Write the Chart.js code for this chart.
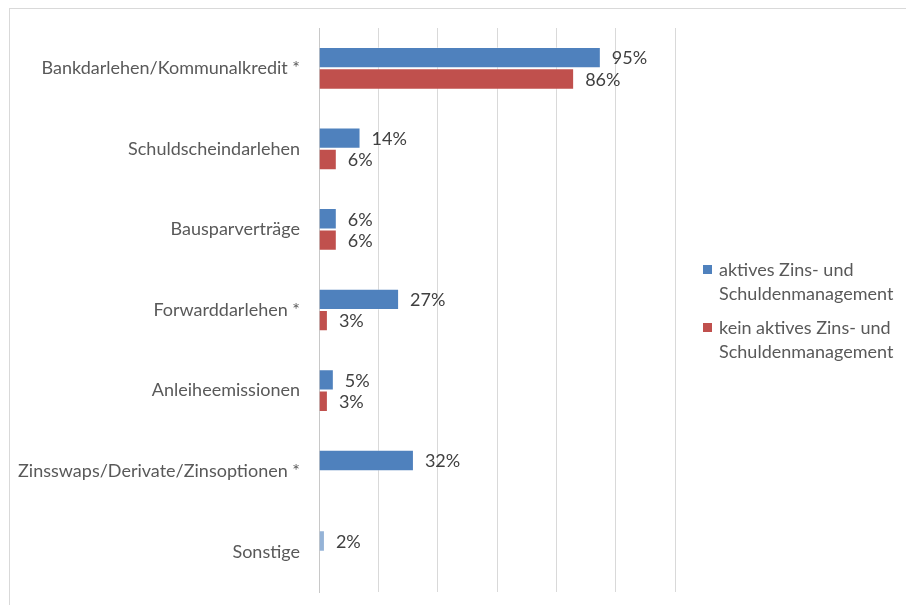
<!DOCTYPE html>
<html>
<head>
<meta charset="utf-8">
<script src="https://cdn.jsdelivr.net/npm/chart.js@4/dist/chart.umd.min.js"></script>
<style>
  html, body { margin: 0; padding: 0; background: #fff; }
  #wrap { width: 906px; height: 605px; position: relative; }
</style>
</head>
<body>
<div id="wrap"><canvas id="myChart" width="906" height="605"></canvas></div>
<script>
// Kategorien und Werte (Prozent)
const categories = [
  "Bankdarlehen/Kommunalkredit *",
  "Schuldscheindarlehen",
  "Bausparverträge",
  "Forwarddarlehen *",
  "Anleiheemissionen",
  "Zinsswaps/Derivate/Zinsoptionen *",
  "Sonstige",
]
const aktiv = [95, 14, 6, 27, 5, 32, 2]
const keinAktiv = [86, 6, 6, 3, 3, null, null]
const seriesNames = [
  ["aktives Zins- und", "Schuldenmanagement"],
  ["kein aktives Zins- und", "Schuldenmanagement"],
]
const xTicks = [0, 20, 40, 60, 80, 100, 120]

const blue = "#4F81BD"
const red = "#C0504D"
const lightBlue = "#95B3D7"
const font = "Lato, 'Open Sans', sans-serif"

// Werte rechts neben die Balken schreiben, Legende rechts zeichnen
const extras = {
  id: "extras",
  beforeDraw(chart) {
    const c = chart.ctx
    c.save()
    c.strokeStyle = "#d9d9d9"
    c.lineWidth = 1
    c.strokeRect(9.5, 8.5, 1000, 1000)
    c.restore()
  },
  afterDatasetsDraw(chart) {
    const c = chart.ctx
    c.save()
    c.font = "18px " + font
    c.fillStyle = "#404040"
    c.textBaseline = "middle"
    chart.data.datasets.forEach((ds, i) => {
      chart.getDatasetMeta(i).data.forEach((bar, j) => {
        const v = ds.data[j]
        if (v === null) return
        c.fillText(v + "%", bar.x + 11, bar.y + 1)
      })
    })

    // Legende
    const cols = [blue, red]
    const tops = [270, 328]
    cols.forEach((col, i) => {
      c.fillStyle = col
      c.fillRect(703, tops[i] - 5, 9, 9)
      c.fillStyle = "#595959"
      c.fillText(seriesNames[i][0], 719, tops[i])
      c.fillText(seriesNames[i][1], 719, tops[i] + 24)
    })
    c.restore()
  },
}

const ctx = document.getElementById("myChart")

new Chart(ctx, {
  type: "bar",
  data: {
    labels: categories,
    datasets: [
      {
        label: seriesNames[0].join(" "),
        data: aktiv,
        backgroundColor: aktiv.map((v, i) => (i === aktiv.length - 1 ? lightBlue : blue)),
        borderColor: "rgba(255,255,255,0.35)",
        borderWidth: 1,
      },
      {
        label: seriesNames[1].join(" "),
        data: keinAktiv,
        backgroundColor: red,
        borderColor: "rgba(255,255,255,0.35)",
        borderWidth: 1,
      },
    ],
  },
  options: {
    indexAxis: "y",
    responsive: false,
    animation: false,
    categoryPercentage: 0.53,
    barPercentage: 1,
    layout: {
      padding: { left: 0, right: 231, top: 28, bottom: 13 },
    },
    plugins: {
      legend: { display: false },
      tooltip: { enabled: false },
    },
    scales: {
      x: {
        min: 0,
        max: 120,
        afterBuildTicks: (scale) => {
          scale.ticks = xTicks.map((v) => ({ value: v }))
        },
        afterFit: (scale) => {
          scale.height = 0
          scale.paddingLeft = 0
          scale.paddingRight = 0
        },
        ticks: { display: false },
        grid: { color: "#d9d9d9", lineWidth: 1, drawTicks: false },
        border: { display: false },
      },
      y: {
        afterFit: (scale) => {
          scale.width = 319
          scale.paddingTop = 0
          scale.paddingBottom = 0
        },
        ticks: {
          color: "#595959",
          font: { family: font, size: 18 },
          padding: 19,
        },
        grid: { display: false, drawTicks: false },
        border: { color: "#c8c8c8", width: 1 },
      },
    },
  },
  plugins: [extras],
})
</script>
</body>
</html>
